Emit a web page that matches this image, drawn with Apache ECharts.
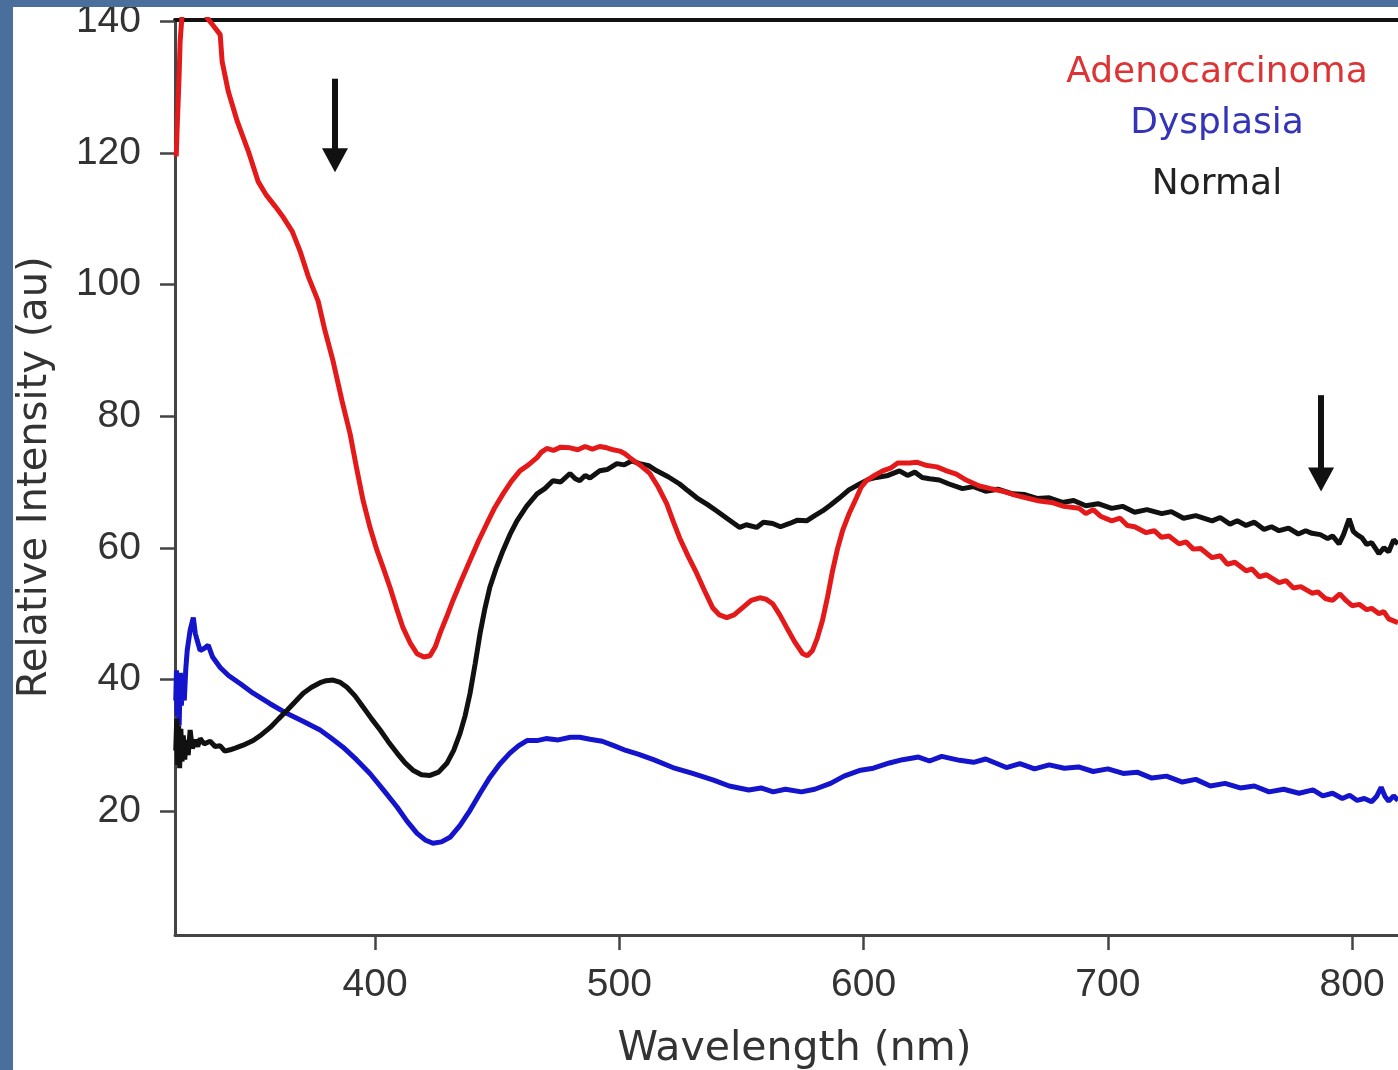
<!DOCTYPE html>
<html>
<head>
<meta charset="utf-8">
<script src="https://cdn.jsdelivr.net/npm/echarts@6/dist/echarts.min.js"></script>
<style>
  html, body { margin: 0; padding: 0; width: 1398px; height: 1070px; background: #4b6f9c; overflow: hidden; }
  #main { position: absolute; left: 13px; top: 7px; width: 1385px; height: 1063px; background: #fff; }
</style>
</head>
<body>
<div id="main"></div>
<script>
// tick labels
var xTicks = [400, 500, 600, 700, 800];
var yTicks = [20, 40, 60, 80, 100, 120, 140];

// [wavelength nm, relative intensity]
var adenocarcinoma = [
  [318.6,119.5],[319.0,124],[319.4,127.9],[319.8,132],[320.2,137.0],[321.0,141],[322,144],[326,146],[329,145],
  [331.3,140.5],[333.5,139.5],[336.6,138.0],[337.4,133.9],[339.9,129.4],[343.6,124.8],[348.1,120.3],[352.1,115.7],
  [355.5,113.6],[359.1,111.9],[362.5,110.2],[366.1,108.1],[369.3,105.1],[372.6,101.3],[376.7,97.5],[379.5,93.0],
  [382.8,88.4],[386.5,82.3],[389.8,77.3],[392.5,72.0],[395.1,67.2],[398,63],[400.8,59.6],[403.5,56.8],[406.1,54.0],
  [408.8,50.8],[411.4,47.9],[414.3,45.6],[417.2,43.9],[420,43.4],[422.5,43.6],[424.7,45],[426.6,47.0],[429.2,49.4],
  [431.9,52.0],[435.4,55.1],[438.9,58.1],[442.3,61],[445.8,63.7],[449,66.1],[452.4,68.2],[455.8,70.1],[459.3,71.7],
  [462.8,72.6],[466.3,73.7],[468,74.5],[470.3,75.1],[473,74.8],[476,75.3],[479.8,75.2],[483,74.9],[486,75.4],
  [489,75.0],[492,75.4],[494.9,75.2],[497.5,74.9],[500.2,74.7],[502.3,74.3],[504.3,73.7],[508.4,72.6],[512.5,71.3],
  [516,69.2],[519.4,66.7],[522,64.1],[524.7,61.5],[528.2,58.7],[531.7,56.1],[535,53.4],[538.2,50.9],[541,49.8],
  [544.0,49.4],[547,49.8],[550.5,50.9],[554,52.0],[557.5,52.4],[560,52.2],[562.8,51.5],[565.7,49.8],[568.5,47.9],
  [571.8,45.7],[575.1,43.9],[577,43.6],[579.1,44.4],[581,46.2],[583.2,49.0],[585.3,52.6],[587.3,56.5],[589.3,59.8],
  [591.4,62.6],[594.2,65.3],[597.1,67.6],[599,69.2],[601.2,70.2],[604.5,71.0],[607.8,71.7],[611,72.1],[614,72.9],
  [618.8,72.9],[622,73.0],[626,72.5],[630,72.3],[634.0,71.7],[638,71.2],[642,70.3],[647.4,69.4],[652,69.0],
  [657,68.6],[662,68.0],[667.7,67.5],[672,67.1],[677,66.9],[682,66.3],[688.3,66.0],[691,65.2],[694,65.8],[697,64.8],
  [701.6,64.1],[705,64.5],[708,63.4],[711,63.2],[715.7,62.3],[719,62.6],[722,61.6],[725,61.8],[729.2,60.6],
  [732,60.9],[735,59.8],[738,59.9],[742.7,58.5],[746,58.8],[749,57.5],[752,57.8],[756.6,56.5],[759,56.8],[762,55.6],
  [765,55.9],[770.1,54.7],[773,55.0],[776,53.9],[779,54.1],[783.6,53.1],[786,53.3],[789,52.3],[792,52.0],[795,53.0],
  [797.5,52.0],[800,51.2],[803,51.4],[806,50.6],[808,50.8],[811.0,50.0],[813,50.3],[815,49.2],[818.8,48.6]
];
var dysplasia = [
  [318.4,36.8],[318.7,41.4],[319.0,34.5],[319.4,40.5],[319.8,33.0],[320.3,41],[320.7,36.0],[321.3,39.8],[321.9,36.8],
  [322.5,41.5],[323.1,44.4],[324.3,47.5],[325.6,49.4],[326.4,47.0],[327.2,45.9],[328.4,44.4],[330,44.7],[331.7,45.2],
  [333.5,43.4],[336.6,41.8],[340,40.6],[345,39.3],[350.1,37.9],[357,36.3],[364.0,34.8],[370.7,33.6],[377.5,32.3],
  [382,31.1],[386.9,29.7],[392.4,27.8],[397.9,25.7],[403.4,23.2],[409.0,20.6],[413,18.5],[417.2,16.6],[420.5,15.6],
  [423.7,15.1],[427.2,15.3],[430.7,16.0],[434.8,17.8],[438.9,20.1],[443,22.7],[447.0,25.1],[451,27.1],[455.2,28.8],
  [458.7,29.9],[462.2,30.7],[466.3,30.7],[470,31.0],[475,30.8],[480,31.2],[483.8,31.2],[488,30.9],[493,30.6],
  [498,29.9],[502.7,29.2],[508,28.6],[514,27.8],[521.9,26.6],[530,25.7],[538.6,24.7],[545,23.8],[553.0,23.2],
  [558,23.5],[563,22.9],[568,23.3],[574.6,22.9],[580,23.3],[586.5,24.2],[592,25.3],[598.8,26.2],[604,26.5],
  [610.6,27.3],[616,27.8],[622.5,28.2],[627,27.6],[632,28.3],[639.3,27.7],[645,27.4],[650,27.9],[658.5,26.6],
  [664,27.2],[670,26.4],[676,27.0],[682.2,26.5],[688,26.7],[694,26.0],[700,26.4],[706.3,25.7],[712,25.9],[718,25.0],
  [724,25.3],[730.5,24.4],[736,24.8],[742,23.8],[748,24.2],[754.2,23.5],[760,23.8],[766,22.9],[772,23.3],
  [778.3,22.7],[784,23.2],[788,22.3],[792,22.7],[796,21.9],[799,22.4],[802.1,21.6],[805,21.9],[808,21.4],[810,22.2],
  [811.9,23.6],[813.5,22.2],[815,21.5],[817,22.3],[818.8,21.6]
];
var normal = [
  [318.4,29.2],[318.8,34],[319.2,27],[319.6,33],[320.0,26.5],[320.5,32.5],[321.0,27.5],[321.5,31.5],[322.1,27.8],
  [322.7,30.8],[323.5,28.5],[324.3,32.3],[325.2,29.5],[326.4,30.8],[327.4,29.8],[328.4,31.0],[330,30.2],[332.5,30.6],
  [334.5,29.8],[336.6,29.9],[338.5,29.1],[340.7,29.3],[343,29.6],[346,30.0],[350.1,30.7],[353.5,31.6],[357.1,32.7],
  [360.5,34.0],[364.0,35.3],[367.3,36.6],[370.6,37.9],[374,38.8],[377.5,39.5],[380,39.8],[382.8,39.9],[385.5,39.6],
  [388.5,38.8],[391.8,37.5],[395.1,35.8],[398.6,34.0],[402.1,32.3],[405.5,30.5],[409.0,28.8],[412.3,27.3],
  [415.5,26.2],[419,25.5],[422.5,25.4],[426,25.9],[429.5,27.3],[432.2,29.2],[434.8,31.8],[436.9,34.5],[438.9,37.9],
  [441,42.4],[443.0,47.0],[445,50.8],[447.0,54.0],[449.7,57.0],[452.4,59.6],[455.2,62.0],[458.1,64.1],[462,66.3],
  [466.3,68.2],[469.5,69.0],[472.8,70.2],[476,70.0],[479.8,71.3],[482,70.5],[483.8,70.2],[486,71.0],[488,70.6],
  [492.0,71.7],[495,71.9],[499.0,72.8],[502,72.6],[505,73.2],[508.4,72.8],[512,72.5],[515.3,71.7],[520,70.8],
  [524.7,69.7],[528,68.7],[531.7,67.6],[536,66.6],[539.9,65.6],[544,64.5],[549.3,63.1],[552,63.5],[556.2,63.1],
  [559,63.9],[562.8,63.7],[566,63.2],[569.7,63.7],[573,64.2],[576.7,64.1],[580,64.9],[583.2,65.6],[586.5,66.5],
  [590.2,67.6],[594,68.8],[598.4,69.7],[602,70.4],[605.3,70.7],[610,71.0],[614.7,71.7],[618,71.0],[621,71.5],
  [624,70.7],[627.0,70.5],[631,70.3],[635,69.7],[640.5,69.0],[645,69.3],[650,68.6],[655,68.9],[661.0,68.2],
  [666,68.1],[671,67.5],[676,67.6],[681.4,66.9],[686,67.2],[691,66.4],[696,66.7],[701.6,66.0],[706,66.3],[711,65.4],
  [716,65.8],[722.1,65.2],[726,65.5],[731,64.5],[736,64.9],[742.7,64.1],[746,64.6],[750,63.6],[753,64.1],
  [756.6,63.4],[760,63.9],[764,62.8],[767,63.2],[770.1,62.6],[774,63.0],[778,62.1],[781,62.6],[783.6,62.2],
  [787,62.0],[790,61.4],[792,61.8],[794.7,60.6],[796.5,62.0],[798.8,64.4],[800.5,62.5],[802,62.0],[804.1,61.5],
  [806,60.5],[808,60.8],[811.0,59.1],[813,60.0],[815,59.4],[817,61.2],[818.8,60.6]
];

// the two arrows, start and end in data units
var arrowLeft = [[383.6, 131.3], [383.6, 118.9]];
var arrowRight = [[787.3, 83.2], [787.3, 70.4]];

var chart = echarts.init(document.getElementById('main'));

var option = {
  animation: false,
  backgroundColor: '#fff',
  grid: {
    left: 162,
    top: 12.5,
    right: 0,
    bottom: 135,
    containLabel: false,
    outerBoundsMode: 'none'
  },
  xAxis: [{
    type: 'value',
    min: 318.1,
    max: 818.8,
    name: 'Wavelength (nm)',
    nameLocation: 'middle',
    nameGap: 94,
    nameTextStyle: { fontFamily: 'DejaVu Sans', fontSize: 41, color: '#333', padding: [0, 0, 0, 16] },
    axisLine: { lineStyle: { color: '#444', width: 3 } },
    axisTick: { show: true, length: 15, customValues: xTicks, lineStyle: { color: '#444', width: 2.5 } },
    axisLabel: { customValues: xTicks, margin: 31, fontFamily: 'Liberation Sans', fontSize: 39, color: '#333' },
    splitLine: { show: false }
  }, {
    // top frame line
    type: 'value',
    position: 'top',
    min: 318.1,
    max: 818.8,
    axisLine: { show: true, lineStyle: { color: '#111', width: 4 } },
    axisTick: { show: false },
    axisLabel: { show: false },
    splitLine: { show: false }
  }],
  yAxis: {
    type: 'value',
    min: 1.15,
    max: 140.3,
    name: 'Relative Intensity (au)',
    nameLocation: 'middle',
    nameGap: 119,
    nameTextStyle: { fontFamily: 'DejaVu Sans', fontSize: 40, color: '#333' },
    axisLine: { show: true, lineStyle: { color: '#444', width: 3 } },
    axisTick: { show: true, length: 15, customValues: yTicks, lineStyle: { color: '#444', width: 2.5 } },
    axisLabel: { customValues: yTicks, margin: 34, fontFamily: 'Liberation Sans', fontSize: 39, color: '#333' },
    splitLine: { show: false }
  },
  graphic: [
    { type: 'text', x: 1204, y: 65.5,
      style: { text: 'Adenocarcinoma', fill: '#dc3434', font: '36px "DejaVu Sans"', textAlign: 'center', textVerticalAlign: 'middle' } },
    { type: 'text', x: 1204, y: 117,
      style: { text: 'Dysplasia', fill: '#3434b8', font: '36px "DejaVu Sans"', textAlign: 'center', textVerticalAlign: 'middle' } },
    { type: 'text', x: 1204, y: 178,
      style: { text: 'Normal', fill: '#222', font: '36px "DejaVu Sans"', textAlign: 'center', textVerticalAlign: 'middle' } }
  ],
  series: [{
    name: 'Dysplasia',
    type: 'line',
    data: dysplasia,
    showSymbol: false,
    lineStyle: { color: '#1414cc', width: 5 },
    itemStyle: { color: '#1414cc' }
  }, {
    name: 'Normal',
    type: 'line',
    data: normal,
    showSymbol: false,
    lineStyle: { color: '#111', width: 5 },
    itemStyle: { color: '#111' }
  }, {
    name: 'Adenocarcinoma',
    type: 'line',
    data: adenocarcinoma,
    showSymbol: false,
    lineStyle: { color: '#e41a1a', width: 5 },
    itemStyle: { color: '#e41a1a' },
    markLine: {
      silent: true,
      symbol: ['none', 'triangle'],
      symbolSize: [26, 24],
      label: { show: false },
      lineStyle: { color: '#111', width: 6, type: 'solid' },
      data: [
        [{ coord: arrowLeft[0] }, { coord: arrowLeft[1] }],
        [{ coord: arrowRight[0] }, { coord: arrowRight[1] }]
      ]
    }
  }]
};
chart.setOption(option);
</script>
</body>
</html>
